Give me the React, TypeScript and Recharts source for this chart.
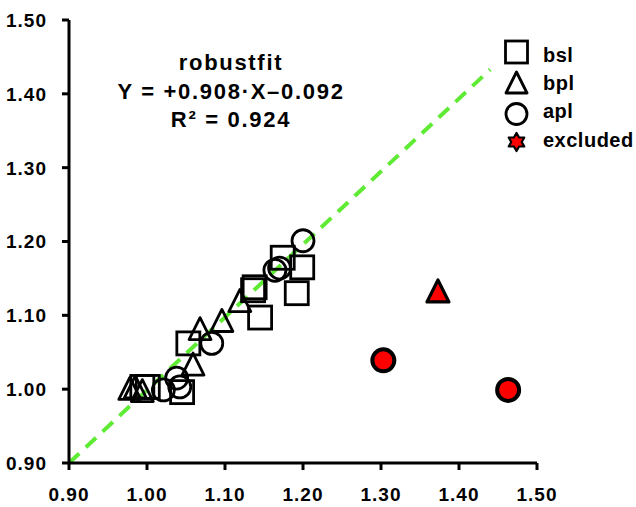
import React from 'react';
import { ScatterChart, Scatter, XAxis, YAxis, ReferenceLine } from 'recharts';

const ticks = [0.9, 1.0, 1.1, 1.2, 1.3, 1.4, 1.5];

// bsl series (squares)
const bsl = [
  { x: 1.174, y: 1.178 },
  { x: 1.199, y: 1.165 },
  { x: 1.192, y: 1.13 },
  { x: 1.136, y: 1.134 },
  { x: 1.138, y: 1.138 },
  { x: 1.145, y: 1.097 },
  { x: 1.053, y: 1.062 },
  { x: 1.045, y: 0.996 },
  { x: 0.994, y: 1.003 },
  { x: 1.001, y: 1.003 },
];

// bpl series (triangles)
const bpl = [
  { x: 1.119, y: 1.118 },
  { x: 1.096, y: 1.091 },
  { x: 1.068, y: 1.08 },
  { x: 1.059, y: 1.032 },
  { x: 0.978, y: 0.999 },
  { x: 0.985, y: 1.001 },
  { x: 0.994, y: 0.996 },
];

// apl series (circles)
const apl = [
  { x: 1.2, y: 1.201 },
  { x: 1.164, y: 1.161 },
  { x: 1.17, y: 1.164 },
  { x: 1.083, y: 1.062 },
  { x: 1.038, y: 1.015 },
  { x: 1.042, y: 1.003 },
  { x: 1.021, y: 0.999 },
];

const excludedApl = [
  { x: 1.303, y: 1.039 },
  { x: 1.463, y: 0.999 },
];
const excludedBpl = [{ x: 1.373, y: 1.131 }];

const fitLine = [
  { x: 0.9, y: 0.9 },
  { x: 1.44, y: 1.433 },
];

const FONT = '"Liberation Sans", Arial, sans-serif';
const GREEN = '#5fea34';

const Square = (p: any) => (
  <rect x={p.cx - 11.5} y={p.cy - 11.5} width={23} height={23} fill="none" stroke="#000" strokeWidth={2.8} />
);

const Triangle = (p: any) => {
  const fill = p.fill || 'none';
  const sw = p.sw || 2.8;
  return (
    <polygon
      points={`${p.cx},${p.cy - 12.5} ${p.cx + 11},${p.cy + 9.5} ${p.cx - 11},${p.cy + 9.5}`}
      fill={fill}
      stroke="#000"
      strokeWidth={sw}
      strokeLinejoin="round"
    />
  );
};

const Circle = (p: any) => (
  <circle cx={p.cx} cy={p.cy} r={11} fill={p.fill || 'none'} stroke="#000" strokeWidth={p.sw || 2.8} />
);

const XTick = (p: any) => (
  <text x={p.x} y={p.y} dy="0.71em" textAnchor="middle" fontFamily={FONT} fontSize={19} fontWeight="bold" letterSpacing={1} fill="#000">
    {p.payload.value.toFixed(2)}
  </text>
);

const YTick = (p: any) => (
  <text x={p.x} y={p.y} dy="0.36em" textAnchor="end" fontFamily={FONT} fontSize={19} fontWeight="bold" letterSpacing={1} fill="#000">
    {p.payload.value.toFixed(2)}
  </text>
);

const star = (cx: number, cy: number, r: number) => {
  const pts: string[] = [];
  for (let i = 0; i < 12; i++) {
    const a = (Math.PI / 6) * i - Math.PI / 2;
    const rr = i % 2 === 0 ? r : r * 0.58;
    pts.push(`${cx + rr * Math.cos(a)},${cy + rr * Math.sin(a)}`);
  }
  return pts.join(' ');
};

export default function App() {
  const txt = { fontFamily: FONT, fontWeight: 'bold' as const, fill: '#000' };
  return (
    <div style={{ position: 'absolute', left: 0, top: 0, width: 636, height: 507, background: '#fff' }}>
      <ScatterChart width={636} height={507} margin={{ top: 20, right: 99, bottom: 0, left: 0 }}>
        <XAxis
          type="number"
          dataKey="x"
          domain={[0.9, 1.5]}
          ticks={ticks}
          height={44}
          tickSize={7}
          tickMargin={18}
          axisLine={{ stroke: '#000', strokeWidth: 3 }}
          tickLine={{ stroke: '#000', strokeWidth: 3 }}
          tick={<XTick />}
          allowDataOverflow
        />
        <YAxis
          type="number"
          dataKey="y"
          domain={[0.9, 1.5]}
          ticks={ticks}
          width={69}
          tickSize={7}
          tickMargin={15}
          axisLine={{ stroke: '#000', strokeWidth: 3 }}
          tickLine={{ stroke: '#000', strokeWidth: 3 }}
          tick={<YTick />}
          allowDataOverflow
        />
        <Scatter data={bsl} shape={Square} isAnimationActive={false} />
        <Scatter data={bpl} shape={Triangle} isAnimationActive={false} />
        <Scatter data={apl} shape={Circle} isAnimationActive={false} />
        <Scatter
          data={excludedBpl}
          shape={(p: any) => <Triangle {...p} fill="#ff0000" sw={3.2} />}
          isAnimationActive={false}
        />
        <Scatter
          data={excludedApl}
          shape={(p: any) => <Circle {...p} fill="#ff0000" sw={4} />}
          isAnimationActive={false}
        />
        <ReferenceLine
          segment={fitLine}
          stroke={GREEN}
          strokeWidth={4}
          strokeDasharray="14 9"
          ifOverflow="visible"
        />
      </ScatterChart>
      <svg width={636} height={507} style={{ position: 'absolute', left: 0, top: 0, pointerEvents: 'none' }}>
        <g {...txt} fontSize={22} letterSpacing={1.7} textAnchor="middle">
          <text x={231} y={70}>robustfit</text>
          <text x={231} y={99}>Y = +0.908·X–0.092</text>
          <text x={231} y={127}>R² = 0.924</text>
        </g>
        <rect x={505.5} y={41} width={22} height={22} fill="none" stroke="#000" strokeWidth={2.8} />
        <polygon points="516.5,72 527,93 506,93" fill="none" stroke="#000" strokeWidth={2.8} strokeLinejoin="round" />
        <circle cx={516.5} cy={114} r={10.5} fill="none" stroke="#000" strokeWidth={2.8} />
        <polygon points={star(516.5, 142, 9)} fill="#ff0000" stroke="#000" strokeWidth={2.2} strokeLinejoin="round" />
        <g {...txt} fontSize={20} letterSpacing={0.5}>
          <text x={543} y={62}>bsl</text>
          <text x={543} y={90}>bpl</text>
          <text x={543} y={118}>apl</text>
          <text x={543} y={147}>excluded</text>
        </g>
      </svg>
    </div>
  );
}
